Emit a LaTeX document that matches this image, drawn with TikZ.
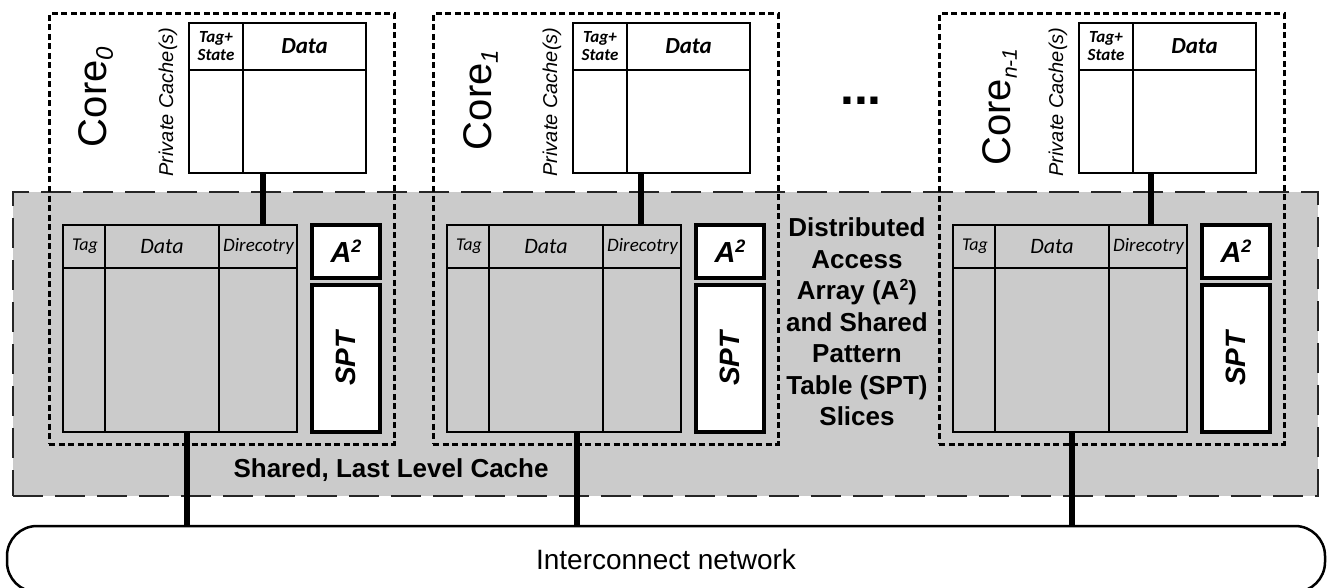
\documentclass[tikz,border=0pt]{standalone}
\usepackage{fontspec}
\setmainfont{Liberation Sans}
\newfontfamily\arial{Liberation Sans}
\newfontfamily\calib{Carlito}
\definecolor{llcgray}{RGB}{203,203,203}
\begin{document}
\begin{tikzpicture}[x=1pt,y=-1pt,
  box/.style={draw,line width=#1,inner sep=0pt,outer sep=0pt,anchor=north west},
  coredot/.style={box=3pt,dash pattern=on 6pt off 3.5pt},
  thickconn/.style={line width=6pt},
  thin/.style={line width=1.4pt},
  pcfont/.style={font=\calib\bfseries\itshape\fontsize{#1}{#1}\selectfont},
  llcfont/.style={font=\calib\itshape\fontsize{#1}{#1}\selectfont}]
\useasboundingbox (0,0) rectangle (1329,588);
% shared last level cache
\node[box=2pt,draw=black!85,fill=llcgray,dash pattern=on 30pt off 12pt,
      minimum width=1305pt,minimum height=304pt] (llc) at (13,192) {};
% interconnect
\node[box=2.5pt,rounded corners=30pt,minimum width=1318pt,minimum height=66pt,
      font=\arial\fontsize{28}{28}\selectfont] (net) at (7,526) {Interconnect network};
\foreach \i/\L/\up/\down/\lx/\ly/\sub/\ss in
   {0/49/214/138/47/97/0/24, 1/433/208/144/48/100/1/24, 2/939/212/133/61/107/n-1/21}{
  % core boundary
  \node[coredot,minimum width=345pt,minimum height=430pt] (core\i) at (\L,14) {};
  % private cache
  \node[box=2pt,fill=white,minimum width=177pt,minimum height=150pt] (pc\i) at (\L+140,23) {};
  \draw[line width=2pt] (pc\i.north west) ++(0,47) -- ++(177,0);
  \draw[line width=2pt] ([xshift=54pt]pc\i.north west) -- ([xshift=54pt]pc\i.south west);
  \node[pcfont=17,align=center] (pcts\i) at (\L+167,46.5) {Tag+\\[1pt]State};
  \node[pcfont=23] (pcd\i) at (\L+255.5,46.5) {Data};
  \node[rotate=90,font=\arial\itshape\fontsize{20}{20}\selectfont] (pcl\i) at (\L+119,102) {Private Cache(s)};
  \node[rotate=90,font=\arial\fontsize{40}{40}\selectfont] (clab\i) at (\L+\lx,\ly)
     {Core\raisebox{-6pt}{\fontsize{\ss}{\ss}\selectfont\itshape\sub}};
  % LLC slice table
  \node[box=1.6pt,minimum width=234pt,minimum height=207pt] (llct\i) at (\L+14,225) {};
  \draw[thin] (llct\i.north west) ++(0,43) -- ++(234,0);
  \draw[thin] ([xshift=42pt]llct\i.north west) -- ([xshift=42pt]llct\i.south west);
  \draw[thin] ([xshift=156pt]llct\i.north west) -- ([xshift=156pt]llct\i.south west);
  \node[llcfont=18] (lt\i) at (\L+36,246.5) {Tag};
  \node[llcfont=22] (ld\i) at (\L+113,246.5) {Data};
  \node[llcfont=19] (lr\i) at (\L+209.5,246.5) {Direcotry};
  % A2 and SPT
  \node[box=4pt,fill=white,minimum width=68pt,minimum height=53pt,
        font=\arial\bfseries\itshape\fontsize{29}{29}\selectfont] (a\i) at (\L+263,225)
        {A\raisebox{10pt}{\fontsize{18}{18}\selectfont 2}};
  \node[box=4pt,fill=white,minimum width=68pt,minimum height=147pt] (spt\i) at (\L+263,285) {};
  \node[rotate=90,font=\arial\bfseries\itshape\fontsize{28}{28}\selectfont] (sptl\i) at (spt\i.center) {SPT};
  % connectors
  \coordinate (u\i) at (\L+\up,0);
  \coordinate (d\i) at (\L+\down,0);
  \draw[thickconn] (pc\i.south -| u\i) -- (llct\i.north -| u\i);
  \draw[thickconn] (llct\i.south -| d\i) -- (net.north -| d\i);
}
\node[font=\arial\bfseries\fontsize{26}{31.5}\selectfont,align=center] (dist) at (857,322)
  {Distributed\\Access\\Array (A\raisebox{9pt}{\fontsize{16}{16}\selectfont 2})\\and Shared\\Pattern\\Table (SPT)\\Slices};
\node[font=\arial\bfseries\fontsize{26}{26}\selectfont,anchor=west] (shared) at (230,470) {Shared, Last Level Cache};
\node[font=\arial\bfseries\fontsize{50}{50}\selectfont,anchor=base] (dots) at (861,105) {...};
\end{tikzpicture}
\end{document}
